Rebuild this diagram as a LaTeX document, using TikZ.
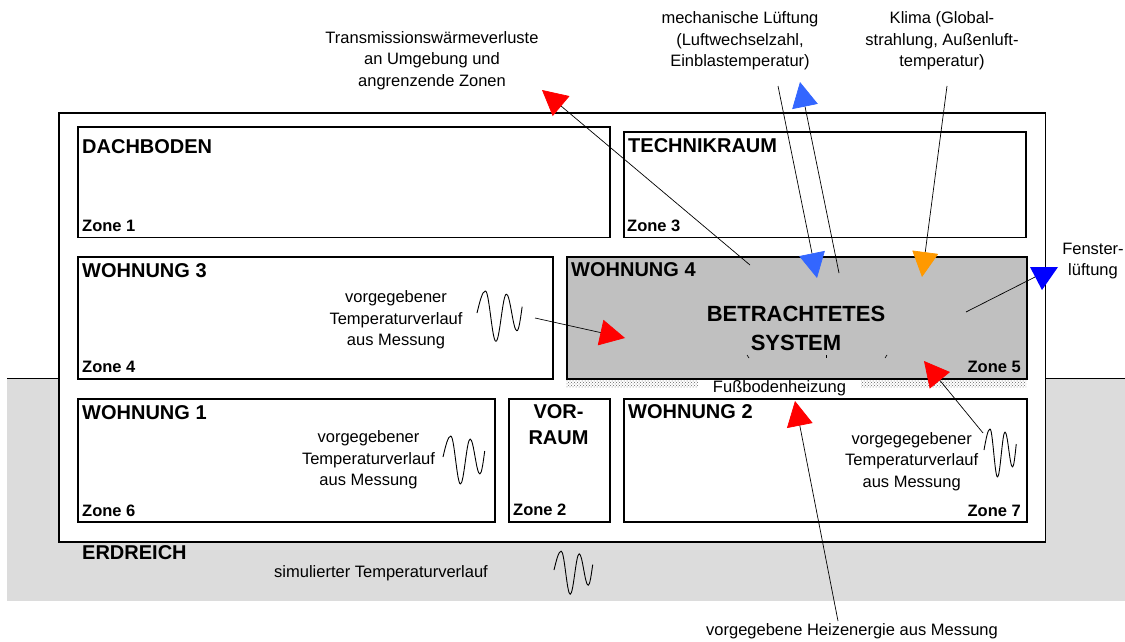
\documentclass[tikz,border=0pt]{standalone}
\usepackage{fontspec}
\setmainfont{Liberation Sans}
\usetikzlibrary{arrows.meta,patterns}
\definecolor{mechblue}{RGB}{51,102,255}
\definecolor{klimaorange}{RGB}{255,153,0}
\definecolor{fensterblue}{RGB}{0,0,255}
\definecolor{sysgray}{RGB}{192,192,192}
\definecolor{groundgray}{RGB}{220,220,220}
\tikzset{
  zonebox/.style={draw=black, line width=1.6pt, fill=white, anchor=north west, inner sep=0pt},
  titletxt/.style={font=\fontsize{20}{26}\selectfont\bfseries, inner sep=0pt},
  zonelbl/.style={font=\fontsize{16.5}{20}\selectfont\bfseries, inner sep=0pt},
  txt/.style={font=\fontsize{16.5}{21.3}\selectfont, align=center, inner sep=0pt},
  conn/.style={draw=black, line width=0.7pt},
  bigtip/.style={-{Triangle[length=25pt,width=26pt,color=#1,fill=#1]}},
  wavepic/.pic={\draw[line width=0.9pt, line join=round] (0,0) sin (8,-21) cos (13,3) sin (18,27) cos (23,4.5) sin (28,-18) cos (33,-0.5) sin (38,17) cos (43,-6);}
}
\begin{document}
\begin{tikzpicture}[x=1pt,y=-1pt]
\useasboundingbox (0,0) rectangle (1125,642);
% ground
\node[anchor=north west, inner sep=0pt, fill=groundgray, minimum width=1118pt, minimum height=223pt] (ground) at (7,378) {};
\draw[line width=0.8pt] (ground.north west) -- (ground.north east);
% outer building
\node[zonebox, minimum width=986.5pt, minimum height=429pt] (outer) at (58,112) {};
% heating strip
\node[anchor=north west, inner sep=0pt, pattern=crosshatch dots, pattern color=black!60, minimum width=460pt, minimum height=9pt] (strip) at (566,378) {};
% zones
\node[zonebox, minimum width=532pt, minimum height=110.7pt] (dach) at (77,126) {};
\node[zonebox, minimum width=402pt, minimum height=105.7pt] (tech) at (623,131) {};
\node[zonebox, minimum width=475pt, minimum height=122pt] (w3) at (77,256) {};
\node[zonebox, fill=sysgray, minimum width=460pt, minimum height=122pt] (w4) at (566,256) {};
\node[zonebox, minimum width=417pt, minimum height=123pt] (w1) at (77,398) {};
\node[zonebox, minimum width=101pt, minimum height=123pt] (vor) at (508,398) {};
\node[zonebox, minimum width=403pt, minimum height=123pt] (w2) at (623,398) {};
% titles
\node[titletxt, anchor=base west] (tdach) at (82,153) {DACHBODEN};
\node[titletxt, anchor=base west] (ttech) at (628,152.7) {TECHNIKRAUM};
\node[titletxt, anchor=base west] (tw3) at (82,277) {WOHNUNG 3};
\node[titletxt, anchor=base west] (tw4) at (571,276) {WOHNUNG 4};
\node[titletxt, anchor=base west] (tw1) at (82,419) {WOHNUNG 1};
\node[titletxt, anchor=base west] (tw2) at (628,418.5) {WOHNUNG 2};
\node[titletxt, align=center] (tvor) at (558.5,424.7) {VOR-\\RAUM};
\node[titletxt, anchor=base west] (terd) at (82,559) {ERDREICH};
\node[font=\fontsize{22}{29}\selectfont\bfseries, align=center, inner sep=0pt] (tsys) at (796,328) {BETRACHTETES\\SYSTEM};
% zone labels
\node[zonelbl, anchor=base west] (z1) at (82,231.7) {Zone 1};
\node[zonelbl, anchor=base west] (z3) at (627,231.7) {Zone 3};
\node[zonelbl, anchor=base west] (z4) at (82,372.7) {Zone 4};
\node[zonelbl, anchor=base east] (z5) at (1021,372.7) {Zone 5};
\node[zonelbl, anchor=base west] (z6) at (82,516) {Zone 6};
\node[zonelbl, anchor=base west] (z2) at (513,515.7) {Zone 2};
\node[zonelbl, anchor=base east] (z7) at (1021,516) {Zone 7};
% texts
\node[txt] (ttrans) at (432,60.5) {Transmissionswärmeverluste\\an Umgebung und\\angrenzende Zonen};
\node[txt] (tmech) at (740,41) {mechanische Lüftung\\(Luftwechselzahl,\\Einblastemperatur)};
\node[txt] (tklima) at (942,41) {Klima (Global-\\strahlung, Außenluft-\\temperatur)};
\node[txt] (tfen) at (1093,261) {Fenster-\\lüftung};
\node[txt] (tmw3) at (396,320) {vorgegebener\\Temperaturverlauf\\aus Messung};
\node[txt] (tmw1) at (368.5,460) {vorgegebener\\Temperaturverlauf\\aus Messung};
\node[txt] (tmz7) at (911.7,461.5) {vorgegegebener\\Temperaturverlauf\\aus Messung};
\node[txt] (tsim) at (381,573.3) {simulierter Temperaturverlauf};
\node[txt] (theiz) at (852,631.7) {vorgegebene Heizenergie aus Messung};
\node[txt, fill=white, inner xsep=15pt] (tfb) at (779.5,388) {Fußbodenheizung};
% waves
\pic[xscale=1.05, yscale=1.05] at (477,313) {wavepic};
\pic[xscale=0.97] at (443,457) {wavepic};
\pic[xscale=0.9, yscale=0.9] at (554,570) {wavepic};
\pic[xscale=0.75] at (984,450) {wavepic};
% small marks
\draw[line width=0.6pt] (747,355) -- (749,358);
\draw[line width=0.6pt] (826,355) -- (826,358);
\draw[line width=0.6pt] (887,355) -- (885,358);
% connector end points
\coordinate (trS) at (750,265); \coordinate (trE) at (542,90);
\coordinate (m1S) at (778,86);  \coordinate (m1E) at (817,278);
\coordinate (m2S) at (839,273); \coordinate (m2E) at (800,82);
\coordinate (klS) at (947,86);  \coordinate (klE) at (922,277);
\coordinate (w3S) at (535,318); \coordinate (w3E) at (625,338);
\coordinate (z7S) at (983,433); \coordinate (z7E) at (924,361);
\coordinate (hzS) at (838,621); \coordinate (hzE) at (795,401);
\coordinate (fnS) at (966,312); \coordinate (fnE) at (1035,277);
% connectors
\draw[conn, bigtip=red] (trS) -- (trE);
\draw[conn, bigtip=mechblue] (m1S) -- (m1E);
\draw[conn, bigtip=mechblue] (m2S) -- (m2E);
\draw[conn, bigtip=klimaorange] (klS) -- (klE);
\draw[conn, bigtip=red] (w3S) -- (w3E);
\draw[conn, bigtip=red] (z7S) -- (z7E);
\draw[conn, bigtip=red] (hzS) -- (hzE);
\draw[conn] (fnS) -- (fnE);
\fill[fensterblue] (1030,267) -- (1058,267) -- (1042,290) -- cycle;
\end{tikzpicture}
\end{document}
